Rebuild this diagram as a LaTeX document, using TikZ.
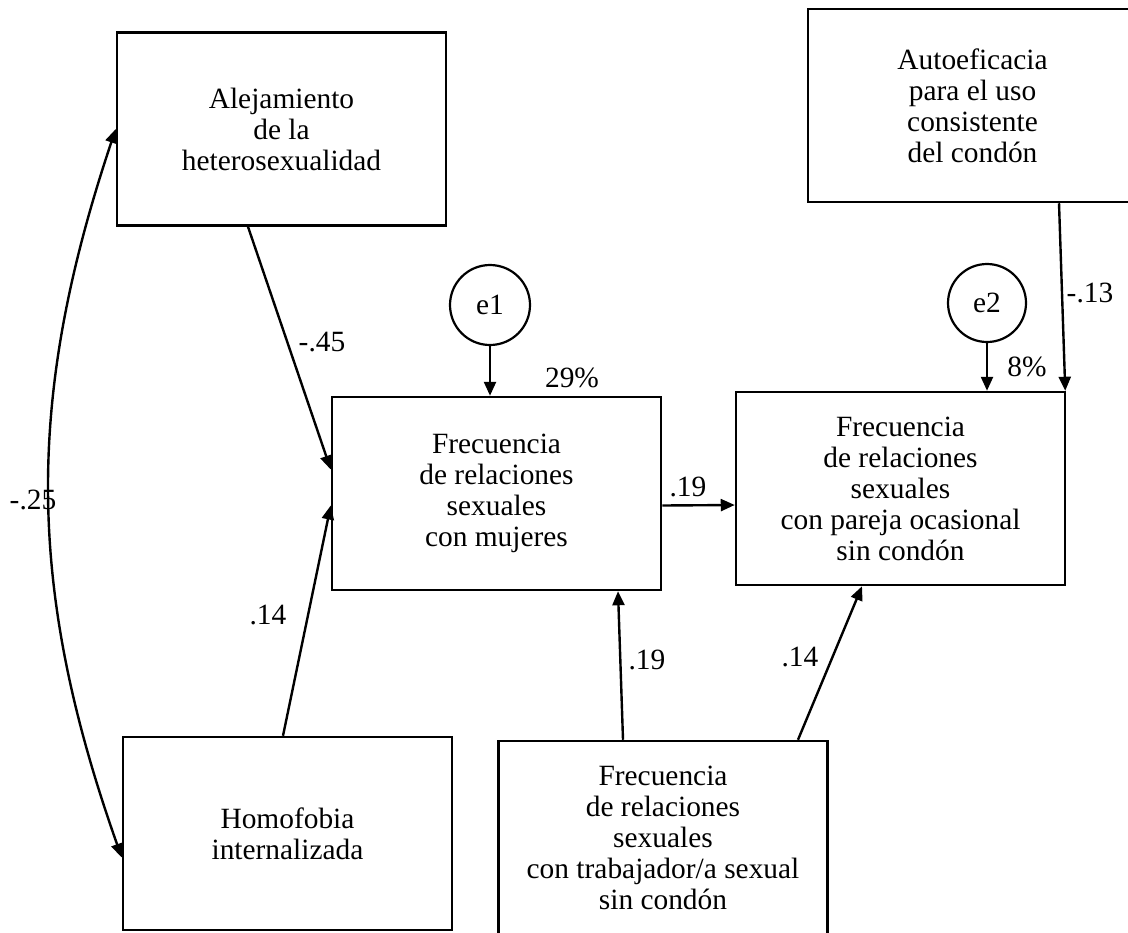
\documentclass[tikz,border=0pt]{standalone}
\usepackage{fontspec}
\setmainfont{Liberation Serif}
\usetikzlibrary{arrows.meta}
\tikzset{>={Triangle[length=7pt,width=6pt]}}
\tikzset{
  var/.style={draw, line width=1.25pt, minimum width=164.5pt, minimum height=96.5pt,
    inner sep=0pt, align=center, font=\fontsize{14.7}{15.5}\selectfont},
  err/.style={draw, circle, line width=1.1pt, minimum size=40pt, inner sep=0pt,
    font=\fontsize{14.7}{15.5}\selectfont},
  coef/.style={inner sep=0pt, font=\fontsize{14.7}{15.5}\selectfont},
  pth/.style={->, line width=1.2pt}
}

\begin{document}
\begin{tikzpicture}[x=0.5pt,y=-0.5pt]
  \useasboundingbox (0,0) rectangle (1128,932);
  \clip (0,0) rectangle (1128,932);

  \node[var] (alej) at (281.5,129) {Alejamiento\\de la\\heterosexualidad};
  \node[var] (auto) at (972.5,105.5) {Autoeficacia\\para el uso\\consistente\\del condón};
  \node[var] (muj) at (496.5,493.5) {Frecuencia\\de relaciones\\sexuales\\con mujeres};
  \node[var] (ocas) at (900.5,488.5) {Frecuencia\\de relaciones\\sexuales\\con pareja ocasional\\sin condón};
  \node[var] (homo) at (287.5,833.5) {Homofobia\\internalizada};
  \node[var] (trab) at (663,837.5) {Frecuencia\\de relaciones\\sexuales\\con trabajador/a sexual\\sin condón};

  \node[err] (e1) at (490,305) {e1};
  \node[err, minimum size=39pt] (e2) at (987,303) {e2};

  \draw[pth] ([xshift=-16.75pt]alej.south) -- ([yshift=12pt]muj.west);
  \draw[pth] ([xshift=-2.25pt]homo.north) -- ([yshift=-6pt]muj.west);
  \draw[<->, line width=1.2pt] (alej.west) to[bend right=19] ([yshift=-12pt]homo.west);
  \draw[pth] (e1) -- (e1 |- muj.north);
  \draw[pth] (e2) -- (e2 |- ocas.north);
  \draw[pth] ([xshift=43.25pt]auto.south) -- ([xshift=-0.5pt]ocas.north east);
  \draw[pth] ([yshift=-6pt]muj.east) -- ([yshift=-8.25pt]ocas.west);
  \draw[pth] ([xshift=-20pt]trab.north) -- ([xshift=60.75pt]muj.south);
  \draw[pth] ([xshift=67.5pt]trab.north) -- ([xshift=-19.25pt]ocas.south);

  \node[coef] (c1) at (322,342) {-.45};
  \node[coef] (c2) at (268,615) {.14};
  \node[coef] (c3) at (33,500) {-.25};
  \node[coef] (r1) at (572,378) {29\%};
  \node[coef] (c4) at (688,487) {.19};
  \node[coef] (r2) at (1027,367) {8\%};
  \node[coef] (c5) at (1090,293) {-.13};
  \node[coef] (c6) at (647,660) {.19};
  \node[coef] (c7) at (800,657) {.14};
\end{tikzpicture}
\end{document}
